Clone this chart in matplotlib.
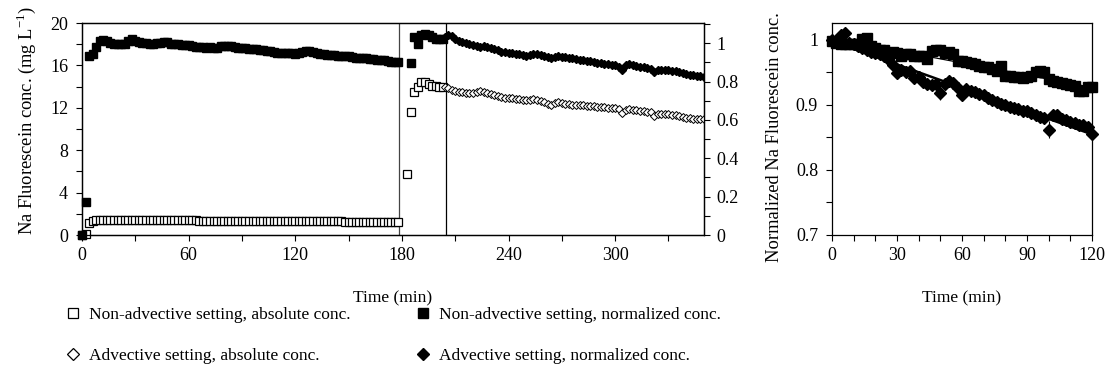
import numpy as np
import matplotlib
matplotlib.use("Agg")
import matplotlib.pyplot as plt
from matplotlib.ticker import MultipleLocator, FuncFormatter
from matplotlib.lines import Line2D

plt.rcParams['font.family'] = ['Liberation Serif', 'DejaVu Serif']
plt.rcParams['mathtext.fontset'] = 'custom'
plt.rcParams['mathtext.rm'] = 'Liberation Serif'
plt.rcParams['font.size'] = 13

# ---- left panel: full experiment ----
# non-advective setting, sampled every 2 min (0-178 min)
t_nonadv = np.arange(0, 180, 2)
nonadv_abs = [0.0, 0.1, 1.1, 1.3, 1.42, 1.45, 1.46, 1.46, 1.46, 1.45,
              1.46, 1.46, 1.46, 1.45, 1.45, 1.46, 1.46, 1.45, 1.45, 1.44,
              1.44, 1.44, 1.43, 1.42, 1.42, 1.4, 1.39, 1.38, 1.38, 1.38,
              1.37, 1.37, 1.37, 1.36, 1.36, 1.36, 1.36, 1.36, 1.36, 1.35,
              1.35, 1.35, 1.35, 1.34, 1.34, 1.34, 1.33, 1.33, 1.33, 1.33,
              1.32, 1.32, 1.32, 1.32, 1.31, 1.31, 1.31, 1.3, 1.3, 1.3,
              1.3, 1.3, 1.3, 1.3, 1.3, 1.29, 1.29, 1.29, 1.29, 1.28,
              1.28, 1.28, 1.28, 1.28, 1.27, 1.27, 1.27, 1.27, 1.27, 1.26,
              1.26, 1.26, 1.26, 1.25, 1.25, 1.25, 1.25, 1.25, 1.25, 1.25]
nonadv_norm = [0.0, 0.17, 0.935, 0.945, 0.98, 1.012, 1.016, 1.012, 1.0, 0.998,
               0.997, 0.993, 0.995, 1.01, 1.02, 1.012, 1.005, 1.0, 0.999, 0.998,
               0.998, 0.999, 1.003, 1.008, 1.006, 0.998, 0.994, 0.993, 0.99, 0.988,
               0.988, 0.985, 0.982, 0.98, 0.978, 0.977, 0.978, 0.975, 0.974, 0.983,
               0.986, 0.985, 0.983, 0.978, 0.976, 0.975, 0.973, 0.972, 0.97, 0.968,
               0.966, 0.963, 0.96, 0.958, 0.954, 0.95, 0.949, 0.948, 0.948, 0.947,
               0.946, 0.948, 0.952, 0.958, 0.96, 0.955, 0.95, 0.946, 0.943, 0.94,
               0.938, 0.936, 0.935, 0.934, 0.933, 0.931, 0.928, 0.925, 0.923, 0.922,
               0.921, 0.918, 0.915, 0.913, 0.912, 0.91, 0.906, 0.902, 0.9, 0.903]

# second non-advective phase (183-203 min)
t_nonadv2_abs = [183, 185, 187, 189, 191, 193, 195, 197, 199, 201, 203]
nonadv2_abs = [5.75, 11.6, 13.5, 14.0, 14.4, 14.4, 14.25, 14.1, 14.05, 14.0, 14.0]
t_nonadv2_norm = [185, 187, 189, 191, 193, 195, 197, 199, 201, 203]
nonadv2_norm = [0.894, 1.033, 0.998, 1.04, 1.05, 1.045, 1.03, 1.02, 1.02, 1.02]

# advective setting, sampled every 2 min (204-350 min)
t_adv = np.arange(204, 352, 2)
adv_abs = [14.0, 13.9, 13.7, 13.6, 13.5, 13.45, 13.4, 13.38, 13.35, 13.5,
           13.6, 13.5, 13.4, 13.3, 13.2, 13.1, 13.0, 12.95, 12.9, 12.88,
           12.85, 12.82, 12.78, 12.75, 12.72, 12.8, 12.7, 12.6, 12.5, 12.4,
           12.25, 12.45, 12.55, 12.45, 12.4, 12.35, 12.3, 12.28, 12.25, 12.22,
           12.2, 12.17, 12.14, 12.1, 12.08, 12.05, 12.02, 12.0, 11.97, 11.93,
           11.55, 11.8, 11.85, 11.8, 11.76, 11.72, 11.68, 11.64, 11.6, 11.25,
           11.45, 11.42, 11.4, 11.37, 11.33, 11.28, 11.22, 11.15, 11.08, 11.02,
           10.98, 10.95, 10.92, 10.9]
adv_norm = [1.03, 1.04, 1.035, 1.02, 1.01, 1.005, 1.0, 0.993, 0.99, 0.985,
            0.98, 0.985, 0.98, 0.975, 0.97, 0.962, 0.955, 0.952, 0.95, 0.948,
            0.945, 0.942, 0.938, 0.935, 0.94, 0.946, 0.942, 0.938, 0.935, 0.93,
            0.922, 0.93, 0.935, 0.93, 0.926, 0.924, 0.92, 0.915, 0.912, 0.91,
            0.907, 0.905, 0.902, 0.898, 0.895, 0.893, 0.89, 0.888, 0.885, 0.878,
            0.86, 0.885, 0.89, 0.885, 0.88, 0.878, 0.874, 0.87, 0.866, 0.852,
            0.862, 0.862, 0.86, 0.858, 0.855, 0.853, 0.85, 0.845, 0.838, 0.834,
            0.832, 0.83, 0.828, 0.826]

phase_breaks = [178.5, 205]

# ---- right panel: first 120 min, normalized ----
t_short = np.arange(0, 122, 2)
sq_norm = [0.998, 0.995, 0.994, 0.993, 0.993, 0.994, 0.993, 1.002, 1.003, 0.99,
           0.987, 0.985, 0.984, 0.98, 0.982, 0.98, 0.976, 0.978, 0.979, 0.976,
           0.976, 0.975, 0.97, 0.983, 0.985, 0.984, 0.98, 0.981, 0.978, 0.968,
           0.968, 0.966, 0.964, 0.963, 0.96, 0.959, 0.958, 0.956, 0.952, 0.96,
           0.945, 0.944, 0.943, 0.943, 0.942, 0.943, 0.944, 0.951, 0.952, 0.951,
           0.94, 0.937, 0.935, 0.933, 0.932, 0.931, 0.929, 0.922, 0.921, 0.928,
           0.927]
sq_err = [0.003, 0.003, 0.003, 0.003, 0.003, 0.003, 0.004, 0.008, 0.008, 0.003,
          0.003, 0.003, 0.004, 0.003, 0.003, 0.003, 0.003, 0.003, 0.003, 0.003,
          0.003, 0.003, 0.003, 0.005, 0.005, 0.003, 0.003, 0.003, 0.003, 0.003,
          0.003, 0.003, 0.003, 0.003, 0.003, 0.003, 0.003, 0.003, 0.004, 0.005,
          0.003, 0.003, 0.003, 0.003, 0.003, 0.003, 0.003, 0.005, 0.005, 0.004,
          0.003, 0.003, 0.003, 0.003, 0.003, 0.003, 0.003, 0.003, 0.003, 0.004,
          0.003]
dia_norm = [1.0, 0.997, 1.008, 1.01, 0.995, 0.993, 0.99, 0.988, 0.985, 0.982,
            0.98, 0.978, 0.975, 0.97, 0.962, 0.949, 0.953, 0.95, 0.952, 0.941,
            0.943, 0.936, 0.932, 0.931, 0.932, 0.918, 0.932, 0.937, 0.933, 0.926,
            0.915, 0.925, 0.922, 0.92, 0.917, 0.916, 0.91, 0.908, 0.904, 0.902,
            0.9, 0.897, 0.895, 0.893, 0.891, 0.89, 0.887, 0.884, 0.882, 0.88,
            0.862, 0.884, 0.884, 0.878, 0.877, 0.874, 0.872, 0.869, 0.869, 0.866,
            0.856]
dia_err = [0.003, 0.003, 0.004, 0.004, 0.004, 0.004, 0.005, 0.005, 0.005, 0.005,
           0.005, 0.005, 0.005, 0.005, 0.005, 0.005, 0.006, 0.005, 0.005, 0.005,
           0.005, 0.005, 0.005, 0.005, 0.005, 0.01, 0.005, 0.005, 0.005, 0.005,
           0.005, 0.005, 0.006, 0.006, 0.005, 0.006, 0.005, 0.006, 0.005, 0.006,
           0.005, 0.006, 0.005, 0.005, 0.006, 0.005, 0.005, 0.006, 0.005, 0.005,
           0.013, 0.005, 0.005, 0.005, 0.005, 0.005, 0.005, 0.005, 0.005, 0.005,
           0.004]

fig = plt.figure(figsize=(11.08, 3.85), dpi=100)
ax1 = fig.add_axes([82 / 1108, 1 - 235 / 385, 622 / 1108, 212 / 385])
ax2 = ax1.twinx()
ax3 = fig.add_axes([832 / 1108, 1 - 235 / 385, 260 / 1108, 212 / 385])

for x in phase_breaks:
    ax1.axvline(x, color="#444444" if x < 190 else "black", lw=0.9, zorder=1)

ax1.plot(t_nonadv, nonadv_abs, "s", mfc="white", mec="black", ms=5.5, mew=0.9, clip_on=False, zorder=3)
ax1.plot(t_nonadv2_abs, nonadv2_abs, "s", mfc="white", mec="black", ms=6, mew=0.9, clip_on=False, zorder=3)
ax1.plot(t_adv, adv_abs, "D", mfc="white", mec="black", ms=4.3, mew=0.7, zorder=3)
ax2.plot(t_nonadv, nonadv_norm, "s", color="black", ms=6.3, clip_on=False, zorder=3)
ax2.plot(t_nonadv2_norm, nonadv2_norm, "s", color="black", ms=6.3, zorder=3)
ax2.plot(t_adv, adv_norm, "D", color="black", ms=4.5, zorder=3)

ax1.set_xlim(0, 350)
ax1.set_ylim(0, 20)
ax2.set_ylim(0, 1.105)
ax1.xaxis.set_major_locator(MultipleLocator(60))
ax1.xaxis.set_minor_locator(MultipleLocator(30))
ax1.yaxis.set_major_locator(MultipleLocator(4))
ax1.yaxis.set_minor_locator(MultipleLocator(2))
ax2.yaxis.set_major_locator(MultipleLocator(0.2))
ax2.yaxis.set_minor_locator(MultipleLocator(0.1))
ax2.yaxis.set_major_formatter(FuncFormatter(lambda v, p: "%g" % round(v, 2)))
ax1.set_xlabel("Time (min)", fontsize=12.5)
ax1.xaxis.set_label_coords(0.5, -0.26)
ax1.set_ylabel(r"Na Fluorescein conc. (mg L$^{\mathregular{-1}}$)", fontsize=13.3)
ax1.yaxis.set_label_coords(-0.07, 0.54)

# right panel
sq_fit = np.polyfit(t_short, sq_norm, 1)
dia_fit = np.polyfit(t_short, dia_norm, 1)
ax3.plot(t_short, np.polyval(sq_fit, t_short), color="black", lw=0.9, zorder=4)
ax3.plot(t_short, np.polyval(dia_fit, t_short), color="black", lw=1.8, zorder=4)
for vals, errs, mk, size in [(sq_norm, sq_err, "s", 7.5), (dia_norm, dia_err, "D", 6.3)]:
    eb = ax3.errorbar(t_short, vals, yerr=errs, fmt=mk, color="black", ms=size,
                      elinewidth=0.8, capsize=0, zorder=3)
    eb[0].set_clip_on(False)
ax3.set_xlim(0, 120)
ax3.set_ylim(0.7, 1.026)
ax3.xaxis.set_major_locator(MultipleLocator(30))
ax3.xaxis.set_minor_locator(MultipleLocator(10))
ax3.yaxis.set_major_locator(MultipleLocator(0.1))
ax3.yaxis.set_minor_locator(MultipleLocator(0.05))
ax3.yaxis.set_major_formatter(FuncFormatter(lambda v, p: "%g" % round(v, 2)))
ax3.set_xlabel("Time (min)", fontsize=12.5)
ax3.xaxis.set_label_coords(0.5, -0.26)
ax3.set_ylabel("Normalized Na Fluorescein conc.", fontsize=13.3)
ax3.yaxis.set_label_coords(-0.19, 0.46)

for ax in (ax1, ax2, ax3):
    ax.tick_params(which="both", direction="out", length=4, width=0.8, color="black")
    for s in ax.spines.values():
        s.set_linewidth(0.9)
ax1.tick_params(axis="y", pad=6)
ax1.tick_params(axis="x", pad=5)
ax2.tick_params(axis="y", pad=5)
ax3.tick_params(axis="y", pad=6)
ax3.tick_params(axis="x", pad=5)

# legend, two columns placed separately
h_open_sq = Line2D([], [], ls="none", marker="s", mfc="white", mec="black", ms=6.5, mew=0.9)
h_open_di = Line2D([], [], ls="none", marker="D", mfc="white", mec="black", ms=6, mew=0.9)
h_fill_sq = Line2D([], [], ls="none", marker="s", color="black", ms=6.5)
h_fill_di = Line2D([], [], ls="none", marker="D", color="black", ms=6)
leg_kw = dict(loc="upper left", frameon=False, handlelength=1.0, handletextpad=0.45,
              labelspacing=1.4, borderpad=0, borderaxespad=0, fontsize=12.5)
fig.legend([h_open_sq, h_open_di],
           ["Non-advective setting, absolute conc.", "Advective setting, absolute conc."],
           bbox_to_anchor=(64 / 1108, 1 - 307 / 385), **leg_kw)
fig.legend([h_fill_sq, h_fill_di],
           ["Non-advective setting, normalized conc.", "Advective setting, normalized conc."],
           bbox_to_anchor=(414 / 1108, 1 - 307 / 385), **leg_kw)

fig.savefig("out.png", dpi=100)
